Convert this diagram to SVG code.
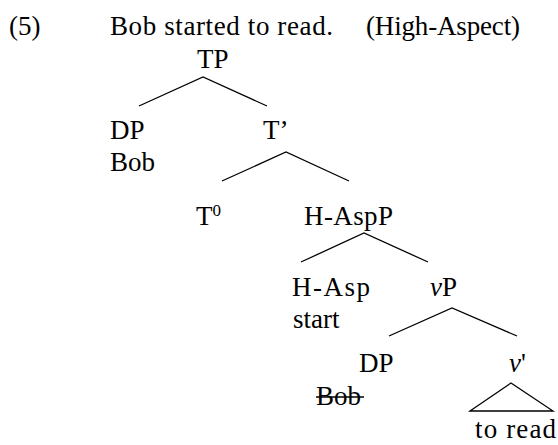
<svg xmlns="http://www.w3.org/2000/svg" width="558" height="445" viewBox="0 0 558 445">
<style>
text{font-family:'Liberation Serif','Times New Roman','DejaVu Serif',serif;font-size:27px;fill:#000}
.it{font-style:italic}
.sup{font-size:17px}
.e{stroke:#000;stroke-width:1.3;fill:none}
</style>
<rect width="558" height="445" fill="#fff"/>
<g id="title">
<text x="9" y="35">(5)</text>
<text x="110" y="35" textLength="223">Bob started to read.</text>
<text x="366" y="35" textLength="154">(High-Aspect)</text>
</g>
<g id="connectors">
<polyline class="e" points="139,106 203,77 267,106"/>
<polyline class="e" points="222,181 286,152 349,181"/>
<polyline class="e" points="301,262 364,233 428,262"/>
<polyline class="e" points="389,336 452,308 517,336"/>
<polygon class="e" points="470,411 511,383 553,411"/>
</g>
<g id="n-TP"><text x="197" y="68">TP</text></g>
<g id="n-DP1"><text x="110" y="139">DP</text><text x="110" y="171">Bob</text></g>
<g id="n-Tbar"><text x="263" y="139">T’</text></g>
<g id="n-T0"><text x="196" y="225">T<tspan class="sup" dy="-9">0</tspan></text></g>
<g id="n-HAspP"><text x="304" y="225" textLength="89">H-AspP</text></g>
<g id="n-HAsp"><text x="292" y="296" textLength="78">H-Asp</text><text x="293" y="328">start</text></g>
<g id="n-vP"><text x="430" y="296"><tspan class="it">v</tspan>P</text></g>
<g id="n-DP2"><text x="359" y="372">DP</text><text x="316" y="405">Bob</text><line class="e" x1="316" y1="397" x2="364" y2="397"/></g>
<g id="n-vbar"><text x="509" y="372"><tspan class="it">v</tspan>'</text></g>
<g id="n-toread"><text x="475" y="438" textLength="81">to read</text></g>
</svg>
